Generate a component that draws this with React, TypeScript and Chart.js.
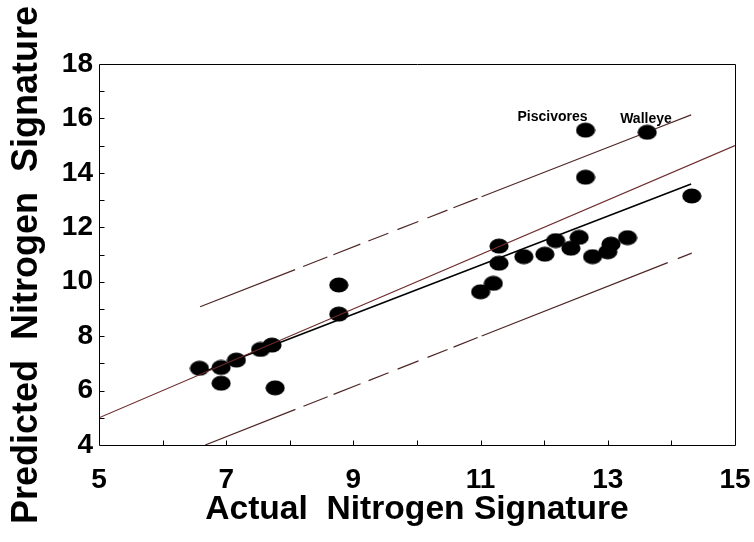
import React, { useEffect, useRef } from 'react';
import { Chart, registerables } from 'chart.js';

Chart.register(...registerables);

// Observed data: actual vs predicted nitrogen signature
const actualX = [
  6.58, 6.92, 6.92, 7.16, 7.54, 7.72, 7.77, 8.77, 8.77,
  12.65, 13.62, 12.65, 14.32,
  11.29, 11.29, 11.0, 11.2, 11.68, 12.01, 12.18, 12.42, 12.55, 12.76, 13.0, 13.05, 13.31,
];
const predictedY = [
  6.82, 6.85, 6.27, 7.12, 7.51, 7.67, 6.1, 9.88, 8.81,
  15.57, 15.49, 13.84, 13.15,
  11.31, 10.68, 9.63, 9.94, 10.92, 11.01, 11.51, 11.23, 11.63, 10.92, 11.1, 11.38, 11.62,
];

// Reference lines
const oneToOneX = [5, 15];
const oneToOneY = [5, 15];
const regressionX = [6.57, 14.31];
const regressionY = [6.62, 13.59];
const upperBandX = [6.59, 14.31];
const upperBandY = [9.08, 16.13];
const lowerBandX = [6.67, 14.32];
const lowerBandY = [4.0, 11.05];

// Axes
const xMin = 5;
const xMax = 15;
const yMin = 4;
const yMax = 18;
const xTickValues = [5, 7, 9, 11, 13, 15];
const yTickValues = [4, 6, 8, 10, 12, 14, 16, 18];
const xMinorTicks = [6, 7, 8, 9, 10, 11, 12, 13, 14];
const yMinorTicks = [5, 6, 7, 8, 9, 10, 11, 12, 13, 14, 15, 16, 17];

// Texts
const xTitle = 'Actual  Nitrogen Signature';
const yTitle = 'Predicted  Nitrogen  Signature';
const annotationTexts = ['Piscivores', 'Walleye'];
const annotationX = [12.13, 13.6];
const annotationY = [16.05, 15.98];

// Line dash styles (irregular dashes of the original plot)
const upperDash = [102, 8.6, 26, 6.4, 29, 8.6, 21.5, 9.7, 22.5, 9.7, 21.5, 6.4, 26, 4.3, 169, 17, 45, 300];
const lowerDash = [97, 8.6, 26, 6.4, 29, 8.6, 21.5, 9.7, 22.5, 9.7, 21.5, 6.4, 26, 4.3, 200, 10.8, 17, 300];

const FONT = '"Liberation Sans", Arial, Helvetica, sans-serif';

const toPoints = (xs: number[], ys: number[]) => xs.map((x, i) => ({ x, y: ys[i] }));

const framePlugin = {
  id: 'frameAndTicks',
  afterDatasetsDraw(chart: any) {
    const { ctx, chartArea, scales } = chart;
    const { left, right, top, bottom } = chartArea;
    const xs = scales.x;
    const ys = scales.y;
    ctx.save();
    ctx.strokeStyle = '#000';
    ctx.lineWidth = 1;
    const l = Math.round(left) + 0.5;
    const r = Math.round(right) + 0.5;
    const t = Math.round(top) + 0.5;
    const b = Math.round(bottom) + 0.5;
    ctx.beginPath();
    ctx.rect(l, t, r - l, b - t);
    ctx.stroke();
    ctx.beginPath();
    xMinorTicks.forEach((v) => {
      const px = Math.round(xs.getPixelForValue(v)) + 0.5;
      ctx.moveTo(px, b);
      ctx.lineTo(px, b - 5);
    });
    yMinorTicks.forEach((v) => {
      const py = Math.round(ys.getPixelForValue(v)) + 0.5;
      ctx.moveTo(l, py);
      ctx.lineTo(l + 5, py);
    });
    ctx.stroke();

    ctx.fillStyle = '#000';
    ctx.font = `bold 14px ${FONT}`;
    ctx.textAlign = 'center';
    ctx.textBaseline = 'middle';
    annotationTexts.forEach((txt, i) => {
      ctx.fillText(txt, xs.getPixelForValue(annotationX[i]), ys.getPixelForValue(annotationY[i]));
    });
    ctx.restore();
  },
  afterDraw(chart: any) {
    const { ctx } = chart;
    ctx.save();
    ctx.fillStyle = '#000';
    ctx.font = `bold 36px ${FONT}`;
    ctx.textAlign = 'center';
    ctx.textBaseline = 'alphabetic';
    ctx.translate(37, 265);
    ctx.rotate(-Math.PI / 2);
    ctx.fillText(yTitle, 0, 0);
    ctx.restore();
  },
};

export default function App() {
  const ref = useRef<HTMLCanvasElement>(null);

  useEffect(() => {
    document.body.style.margin = '0';
    const canvas = ref.current;
    if (!canvas) return;

    const dot = document.createElement('canvas');
    dot.width = 20;
    dot.height = 16;
    const dctx = dot.getContext('2d');
    if (dctx) {
      dctx.fillStyle = '#000';
      dctx.beginPath();
      dctx.ellipse(10, 8, 9.6, 7.6, 0, 0, Math.PI * 2);
      dctx.fill();
    }

    const chart = new Chart(canvas, {
      type: 'scatter',
      data: {
        datasets: [
          {
            label: 'Upper prediction',
            data: toPoints(upperBandX, upperBandY),
            showLine: true,
            borderColor: '#4e2626',
            borderWidth: 1.2,
            borderDash: upperDash,
            pointRadius: 0,
            fill: false,
          },
          {
            label: 'Lower prediction',
            data: toPoints(lowerBandX, lowerBandY),
            showLine: true,
            borderColor: '#4e2626',
            borderWidth: 1.2,
            borderDash: lowerDash,
            pointRadius: 0,
            fill: false,
          },
          {
            label: '1:1',
            data: toPoints(oneToOneX, oneToOneY),
            showLine: true,
            borderColor: '#6e2b2b',
            borderWidth: 1.2,
            pointRadius: 0,
            fill: false,
          },
          {
            label: 'Regression',
            data: toPoints(regressionX, regressionY),
            showLine: true,
            borderColor: '#000000',
            borderWidth: 1.5,
            pointRadius: 0,
            fill: false,
          },
          {
            label: 'Fish',
            data: toPoints(actualX, predictedY),
            showLine: false,
            pointStyle: dot as any,
            pointRadius: 9,
            backgroundColor: '#000',
            borderColor: '#000',
          },
        ],
      },
      options: {
        animation: false,
        responsive: false,
        maintainAspectRatio: false,
        devicePixelRatio: 1,
        layout: { padding: { top: 64, right: 19, left: 0, bottom: 0 } },
        plugins: {
          legend: { display: false },
          tooltip: { enabled: false },
        },
        scales: {
          x: {
            type: 'linear',
            min: xMin,
            max: xMax,
            afterBuildTicks: (scale: any) => {
              scale.ticks = xTickValues.map((v) => ({ value: v }));
            },
            afterFit: (scale: any) => {
              scale.height = 97;
              scale.paddingLeft = 0;
              scale.paddingRight = 0;
            },
            grid: { display: false, drawTicks: false },
            border: { display: false },
            ticks: {
              color: '#000',
              padding: 18,
              maxRotation: 0,
              autoSkip: false,
              font: { family: FONT, size: 28, weight: 'bold' },
            },
            title: {
              display: true,
              text: xTitle,
              color: '#000',
              font: { family: FONT, size: 33.6, weight: 'bold' },
              padding: { top: 0, bottom: 12 },
            },
          },
          y: {
            type: 'linear',
            min: yMin,
            max: yMax,
            afterBuildTicks: (scale: any) => {
              scale.ticks = yTickValues.map((v) => ({ value: v }));
            },
            afterFit: (scale: any) => {
              scale.width = 99;
              scale.paddingTop = 0;
              scale.paddingBottom = 0;
            },
            grid: { display: false, drawTicks: false },
            border: { display: false },
            ticks: {
              color: '#000',
              padding: 6,
              autoSkip: false,
              font: { family: FONT, size: 28, weight: 'bold' },
            },
            title: { display: false, text: yTitle },
          },
        },
      },
      plugins: [framePlugin],
    });

    return () => chart.destroy();
  }, []);

  return (
    <div style={{ position: 'fixed', left: 0, top: 0, width: 754, height: 542, background: '#fff' }}>
      <canvas ref={ref} width={754} height={542} style={{ display: 'block' }} />
    </div>
  );
}
